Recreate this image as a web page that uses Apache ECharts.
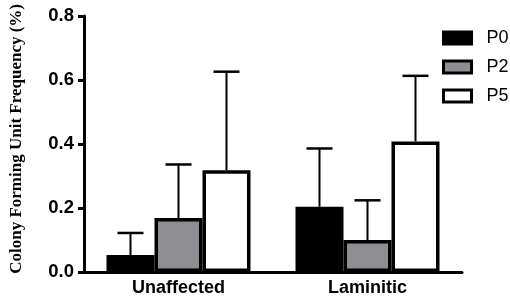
<!DOCTYPE html>
<html><head><meta charset="utf-8">
<script src="https://cdn.jsdelivr.net/npm/echarts@6/dist/echarts.min.js"></script>
<style>html,body{margin:0;padding:0;background:#fff}#c{width:510px;height:302px}</style>
</head><body><div id="c"></div>
<script>
const categories = ['Unaffected', 'Laminitic'];
const seriesNames = ['P0', 'P2', 'P5'];
const p0 = [0.053, 0.204];
const p2 = [0.169, 0.100];
const p5 = [0.318, 0.408];
const p0Err = [0.069, 0.182];
const p2Err = [0.167, 0.124];
const p5Err = [0.308, 0.205];
const yTicks = [0, 0.2, 0.4, 0.6, 0.8];
const yAxisTitle = 'Colony Forming Unit Frequency (%)';

const values = [p0, p2, p5];
const errs = [p0Err, p2Err, p5Err];
const fills = ['#000000', '#8e8d92', '#ffffff'];
const BW = 48;

const chart = echarts.init(document.getElementById('c'), null, {renderer: 'canvas'});
const series = [];
seriesNames.forEach((n, i) => {
  series.push({
    name: n, type: 'bar', data: values[i], barWidth: BW, barGap: '0%',
    itemStyle: {color: fills[i], borderColor: '#000', borderWidth: 3.5},
    z: 3
  });
});
seriesNames.forEach((n, i) => {
  series.push({
    type: 'custom', z: 2,
    data: values[i].map((v, k) => [k, v, v + errs[i][k]]),
    renderItem: function (params, api) {
      const off = (i - 1) * BW;
      const p1 = api.coord([api.value(0), api.value(1)]);
      const p2c = api.coord([api.value(0), api.value(2)]);
      const x = p1[0] + off;
      const cw = 13;
      return {type: 'group', children: [
        {type: 'line', shape: {x1: x, y1: p1[1], x2: x, y2: p2c[1]}, style: {stroke: '#000', lineWidth: 2}},
        {type: 'line', shape: {x1: x - cw, y1: p2c[1], x2: x + cw, y2: p2c[1]}, style: {stroke: '#000', lineWidth: 2.5}}
      ]};
    }
  });
});

chart.setOption({
  animation: false,
  grid: {left: 84, right: 48, top: 16, bottom: 30, containLabel: false},
  legend: {
    data: seriesNames, orient: 'vertical', left: 437, top: 24,
    icon: 'rect', itemWidth: 28, itemHeight: 12, itemGap: 11,
    itemStyle: {borderWidth: 3, borderColor: '#000'},
    textStyle: {fontFamily: 'Liberation Sans, Arial', fontSize: 18, color: '#000', padding: [0, 0, 0, 10]}
  },
  graphic: [{
    type: 'text', left: 8, top: 4, rotation: Math.PI / 2,
    style: {text: yAxisTitle, fontFamily: 'Liberation Serif, Times New Roman', fontWeight: 'bold', fontSize: 17, fill: '#000'}
  }],
  xAxis: {
    type: 'category', data: categories,
    axisLine: {lineStyle: {color: '#000', width: 3}},
    axisTick: {alignWithLabel: true, length: 6, lineStyle: {color: '#000', width: 3}},
    axisLabel: {fontFamily: 'Liberation Sans, Arial', fontWeight: 'bold', fontSize: 18, color: '#000', margin: 7}
  },
  yAxis: {
    type: 'value', min: 0, max: 0.8, interval: 0.2,
    splitLine: {show: false},
    axisLine: {show: true, lineStyle: {color: '#000', width: 3}},
    axisTick: {show: true, length: 6, lineStyle: {color: '#000', width: 3}},
    axisLabel: {fontFamily: 'Liberation Sans, Arial', fontWeight: 'bold', fontSize: 18.5, color: '#000', margin: 10,
      formatter: v => yTicks.includes(Math.round(v * 10) / 10) ? v.toFixed(1) : ''}
  },
  series: series
});
</script></body></html>
